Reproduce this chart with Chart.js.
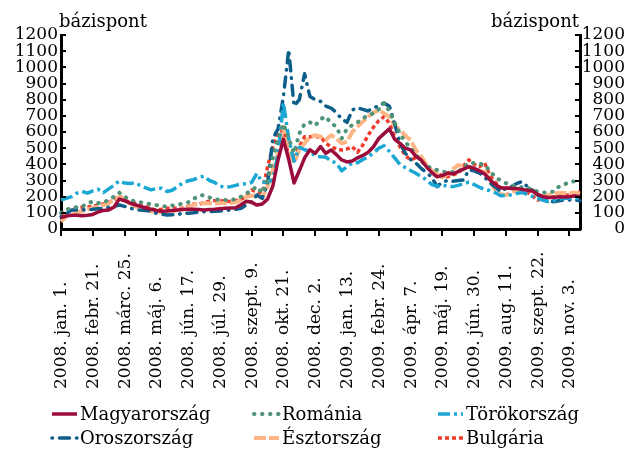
<!DOCTYPE html>
<html lang="hu">
<head>
<meta charset="utf-8">
<title>Felárak – bázispont</title>
<script src="https://cdn.jsdelivr.net/npm/chart.js@4.4.1/dist/chart.umd.min.js"></script>
<style>
    html, body { margin: 0; padding: 0; background: #fff; }
    #spread-chart { display: block; }
</style>
</head>
<body>
<canvas id="spread-chart" width="627" height="450"></canvas>
<script>
// Tick labels on the time axis (one every 6 weeks), data points are weekly
const tickLabels = [
    '2008. jan. 1.', '2008. febr. 21.', '2008. márc. 25.', '2008. máj. 6.',
    '2008. jún. 17.', '2008. júl. 29.', '2008. szept. 9.', '2008. okt. 21.',
    '2008. dec. 2.', '2009. jan. 13.', '2009. febr. 24.', '2009. ápr. 7.',
    '2009. máj. 19.', '2009. jún. 30.', '2009. aug. 11.', '2009. szept. 22.',
    '2009. nov. 3.'
];
const POINTS_PER_TICK = 6;

const seriesNames = ['Magyarország', 'Románia', 'Törökország', 'Oroszország', 'Észtország', 'Bulgária'];

const magyarorszag = [
    70, 80, 85, 85, 82, 85, 90, 105, 115, 118, 135, 185, 175, 160, 150, 140, 130, 122, 115, 110,
    112, 115, 118, 120, 122, 122, 120, 118, 120, 122, 125, 128, 130, 132, 150, 172, 165, 148, 155, 185,
    265, 430, 555, 430, 285, 360, 440, 490, 468, 509, 468, 489, 460, 427, 415, 420, 440, 455, 475, 509,
    560, 590, 620, 555, 530, 500, 489, 450, 427, 385, 350, 323, 330, 346, 340, 355, 370, 385, 375, 360,
    340, 305, 275, 255, 253, 250, 250, 245, 240, 235, 215, 200, 195, 195, 200, 198, 200, 205, 200
];
const romania = [
    100, 120, 130, 135, 138, 160, 169, 160, 165, 179, 200, 225, 200, 179, 170, 165, 160, 152, 148, 142,
    138, 145, 150, 158, 165, 185, 205, 210, 195, 185, 180, 180, 179, 185, 200, 220, 241, 262, 222, 300,
    440, 560, 650, 560, 470, 590, 650, 660, 640, 680, 695, 654, 633, 560, 620, 643, 660, 686, 700, 717,
    740, 780, 730, 660, 590, 540, 500, 460, 420, 390, 377, 365, 355, 350, 352, 354, 380, 408, 408, 405,
    395, 360, 320, 300, 284, 270, 262, 258, 255, 245, 231, 225, 228, 231, 262, 275, 290, 295, 285
];
const torokorszag = [
    180, 190, 200, 222, 232, 222, 236, 246, 225, 248, 270, 298, 284, 282, 286, 268, 255, 242, 250, 252,
    232, 240, 262, 285, 298, 305, 318, 328, 300, 288, 265, 258, 262, 270, 278, 280, 288, 344, 288, 292,
    303, 470, 780, 560, 420, 505, 490, 480, 450, 447, 445, 420, 408, 360, 385, 408, 410, 430, 445, 470,
    500, 515, 480, 440, 400, 380, 362, 345, 325, 305, 275, 265, 270, 266, 262, 270, 280, 290, 275, 258,
    245, 238, 225, 205, 208, 212, 220, 226, 215, 202, 190, 178, 170, 175, 185, 190, 190, 192, 188
];
const oroszorszag = [
    75, 95, 117, 118, 118, 120, 122, 125, 128, 135, 140, 148, 140, 130, 120, 117, 115, 110, 97, 92,
    87, 88, 87, 100, 97, 100, 105, 107, 107, 110, 112, 115, 117, 122, 128, 150, 169, 210, 190, 283,
    560, 620, 820, 1110, 760, 800, 960, 820, 800, 790, 760, 748, 720, 680, 660, 736, 750, 740, 730, 750,
    760, 780, 760, 650, 532, 470, 430, 408, 375, 350, 320, 262, 290, 300, 295, 300, 303, 365, 360, 346,
    320, 284, 260, 231, 250, 262, 280, 293, 265, 241, 210, 180, 172, 169, 175, 179, 180, 179, 175
];
const esztorszag = [
    45, 80, 100, 105, 110, 120, 130, 138, 148, 160, 180, 198, 180, 160, 140, 128, 117, 110, 107, 105,
    107, 110, 117, 125, 135, 150, 155, 160, 160, 158, 160, 162, 160, 165, 180, 200, 205, 210, 190, 262,
    365, 470, 633, 509, 408, 489, 530, 571, 580, 571, 550, 580, 560, 530, 540, 600, 633, 664, 695, 720,
    736, 715, 695, 640, 612, 580, 550, 489, 447, 400, 360, 340, 320, 340, 370, 396, 390, 385, 370, 360,
    354, 300, 240, 215, 210, 225, 240, 242, 240, 241, 215, 200, 210, 220, 222, 222, 222, 225, 220
];
const bulgaria = [
    90, 107, 125, 130, 135, 138, 140, 148, 155, 165, 179, 205, 180, 165, 160, 145, 138, 125, 117, 122,
    128, 128, 128, 130, 140, 155, 150, 165, 172, 175, 175, 172, 170, 175, 185, 200, 241, 230, 221, 385,
    509, 600, 612, 447, 447, 509, 571, 571, 571, 571, 530, 509, 495, 489, 495, 509, 475, 520, 580, 630,
    670, 695, 655, 571, 509, 455, 427, 440, 440, 385, 360, 344, 330, 323, 335, 346, 390, 427, 400, 385,
    408, 330, 290, 255, 253, 253, 248, 245, 230, 205, 179, 188, 195, 200, 205, 208, 210, 220, 231
];

const Y_MIN = 0;
const Y_MAX = 1200;
const Y_STEP = 100;
const UNIT_LABEL = 'bázispont';

const FONT = "'DejaVu Serif', 'Liberation Serif', serif";

// index labels for the category axis, ticks drawn by the decor plugin
const categories = magyarorszag.map((_, i) => {
    const k = i / POINTS_PER_TICK;
    return Number.isInteger(k) && tickLabels[k] ? tickLabels[k] : String(i);
});

const styles = [
    { color: '#9b0b3b', dash: [], cap: 'butt', width: 3.5 },
    { color: '#4f9478', dash: [0.5, 7.5], cap: 'round', width: 4 },
    { color: '#1ba7d3', dash: [12, 4, 3, 4], cap: 'butt', width: 3.5 },
    { color: '#0e5e8a', dash: [0.5, 7, 10, 7], cap: 'round', width: 3.5 },
    { color: '#ffb584', dash: [12, 3], cap: 'butt', width: 4 },
    { color: '#ef3b2c', dash: [4, 3], cap: 'butt', width: 3.5 }
];

const seriesData = [magyarorszag, romania, torokorszag, oroszorszag, esztorszag, bulgaria];

const decorPlugin = {
    id: 'decor',
    afterDraw(chart) {
        const { ctx, chartArea, scales } = chart;
        ctx.save();
        ctx.strokeStyle = '#000';
        ctx.fillStyle = '#000';
        ctx.lineWidth = 2;

        // inward tick marks on both value axes
        ctx.beginPath();
        for (let v = Y_MIN; v <= Y_MAX; v += Y_STEP) {
            const y = Math.round(scales.y.getPixelForValue(v));
            ctx.moveTo(chartArea.left, y);
            ctx.lineTo(chartArea.left + 5, y);
            ctx.moveTo(chartArea.right, y);
            ctx.lineTo(chartArea.right - 5, y);
        }
        ctx.stroke();

        // time axis ticks + rotated labels (bottom aligned)
        ctx.font = '17px ' + FONT;
        ctx.textAlign = 'left';
        ctx.textBaseline = 'middle';
        tickLabels.forEach((txt, k) => {
            const x = Math.round(scales.x.getPixelForValue(k * POINTS_PER_TICK));
            ctx.beginPath();
            ctx.moveTo(x, chartArea.bottom);
            ctx.lineTo(x, chartArea.bottom + 7);
            ctx.stroke();
            ctx.save();
            ctx.translate(x, 389);
            ctx.rotate(-Math.PI / 2);
            ctx.fillText(txt, 0, 1);
            ctx.restore();
        });

        // unit labels above the axes
        ctx.textBaseline = 'alphabetic';
        ctx.font = '18px ' + FONT;
        ctx.textAlign = 'left';
        ctx.fillText(UNIT_LABEL, chartArea.left - 2, 27);
        ctx.textAlign = 'right';
        ctx.fillText(UNIT_LABEL, chartArea.right - 1, 27);

        // legend, 3 columns x 2 rows
        const cols = [52, 254, 438];
        const rows = [414, 438];
        ctx.font = '18px ' + FONT;
        ctx.textAlign = 'left';
        ctx.textBaseline = 'middle';
        chart.data.datasets.forEach((ds, i) => {
            const x = cols[i % 3];
            const y = rows[Math.floor(i / 3)];
            ctx.save();
            ctx.strokeStyle = ds.borderColor;
            ctx.lineWidth = ds.borderWidth;
            ctx.lineCap = ds.borderCapStyle;
            ctx.setLineDash(ds.borderDash);
            ctx.beginPath();
            ctx.moveTo(x, y);
            ctx.lineTo(x + 25, y);
            ctx.stroke();
            ctx.restore();
            ctx.fillText(ds.label, x + 28, y + 1);
        });

        ctx.restore();
    }
};

function renderChart() {
    const ctx = document.getElementById('spread-chart');

    const datasets = seriesNames.map((name, i) => ({
        label: name,
        data: seriesData[i],
        borderColor: styles[i].color,
        backgroundColor: styles[i].color,
        borderWidth: styles[i].width,
        borderDash: styles[i].dash,
        borderCapStyle: styles[i].cap,
        borderJoinStyle: 'round',
        pointRadius: 0,
        tension: 0,
        fill: false,
        yAxisID: 'y'
    }));

    const valueAxis = (position) => ({
        type: 'linear',
        position: position,
        min: Y_MIN,
        max: Y_MAX,
        grid: { drawOnChartArea: false, drawTicks: false },
        border: { display: true, color: '#000', width: 3 },
        ticks: {
            stepSize: Y_STEP,
            autoSkip: false,
            color: '#000',
            padding: 3,
            crossAlign: position === 'right' ? 'far' : 'near',
            font: { family: FONT, size: 17 },
            callback: (value) => String(value)
        },
        afterFit(scale) { scale.width = position === 'right' ? 45 : 61; }
    });

    return new Chart(ctx, {
        type: 'line',
        data: { labels: categories, datasets: datasets },
        options: {
            responsive: false,
            animation: false,
            devicePixelRatio: 1,
            layout: { padding: { top: 35, right: 2, left: 0, bottom: 0 } },
            plugins: {
                legend: { display: false },
                tooltip: { enabled: false }
            },
            scales: {
                x: {
                    type: 'category',
                    offset: false,
                    grid: { drawOnChartArea: false, drawTicks: false },
                    border: { display: true, color: '#000', width: 3 },
                    ticks: { display: false },
                    afterFit(scale) { scale.height = 221; }
                },
                y: valueAxis('left'),
                y2: valueAxis('right')
            }
        },
        plugins: [decorPlugin]
    });
}

renderChart();
</script>
</body>
</html>
